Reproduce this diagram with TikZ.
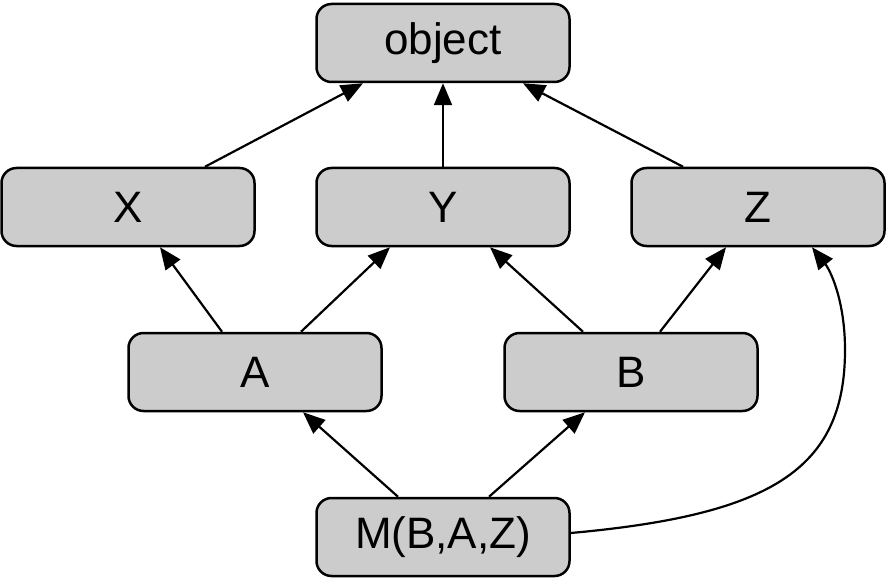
\documentclass[tikz,border=0pt]{standalone}
\usepackage{fontspec}
\setmainfont{Liberation Sans}
\usetikzlibrary{arrows.meta}
\definecolor{boxgray}{HTML}{CCCCCC}
\begin{document}
\begin{tikzpicture}[x=1pt,y=-1pt,
  cls/.style={draw=black, fill=boxgray, line width=2.5pt, rounded corners=15pt,
    minimum width=253pt, minimum height=78pt, inner sep=0pt,
    font=\fontsize{44}{52}\selectfont},
  edge/.style={line width=2.2pt, -{Triangle[length=22pt,width=18pt]}}]
\useasboundingbox (0,0) rectangle (886,580);
\node[cls] (object) at (443,43) {object};
\node[cls] (X) at (128,207) {X};
\node[cls] (Y) at (443,207) {Y};
\node[cls] (Z) at (758,207) {Z};
\node[cls] (A) at (255,372) {A};
\node[cls] (B) at (631,372) {B};
\node[cls] (M) at (443,537) {M(B,A,Z)};
\draw[edge] ([xshift=77pt]X.north) -- ([xshift=-80pt]object.south);
\draw[edge] (Y.north) -- (object.south);
\draw[edge] ([xshift=-75pt]Z.north) -- ([xshift=80pt]object.south);
\draw[edge] ([xshift=-33pt]A.north) -- ([xshift=32pt]X.south);
\draw[edge] ([xshift=46pt]A.north) -- ([xshift=-53pt]Y.south);
\draw[edge] ([xshift=-48pt]B.north) -- ([xshift=47pt]Y.south);
\draw[edge] ([xshift=29pt]B.north) -- ([xshift=-32pt]Z.south);
\draw[edge] ([xshift=-45pt]M.north) -- ([xshift=48pt]A.south);
\draw[edge] ([xshift=46pt]M.north) -- ([xshift=-46pt]B.south);
\coordinate (cs) at ([yshift=4pt]M.east);
\coordinate (ce) at ([xshift=54pt]Z.south);
\draw[edge] (cs) .. controls (770,515) and (845,470) .. (845,350)
  .. controls (845,300) and (830,270) .. (ce);
\end{tikzpicture}
\end{document}
